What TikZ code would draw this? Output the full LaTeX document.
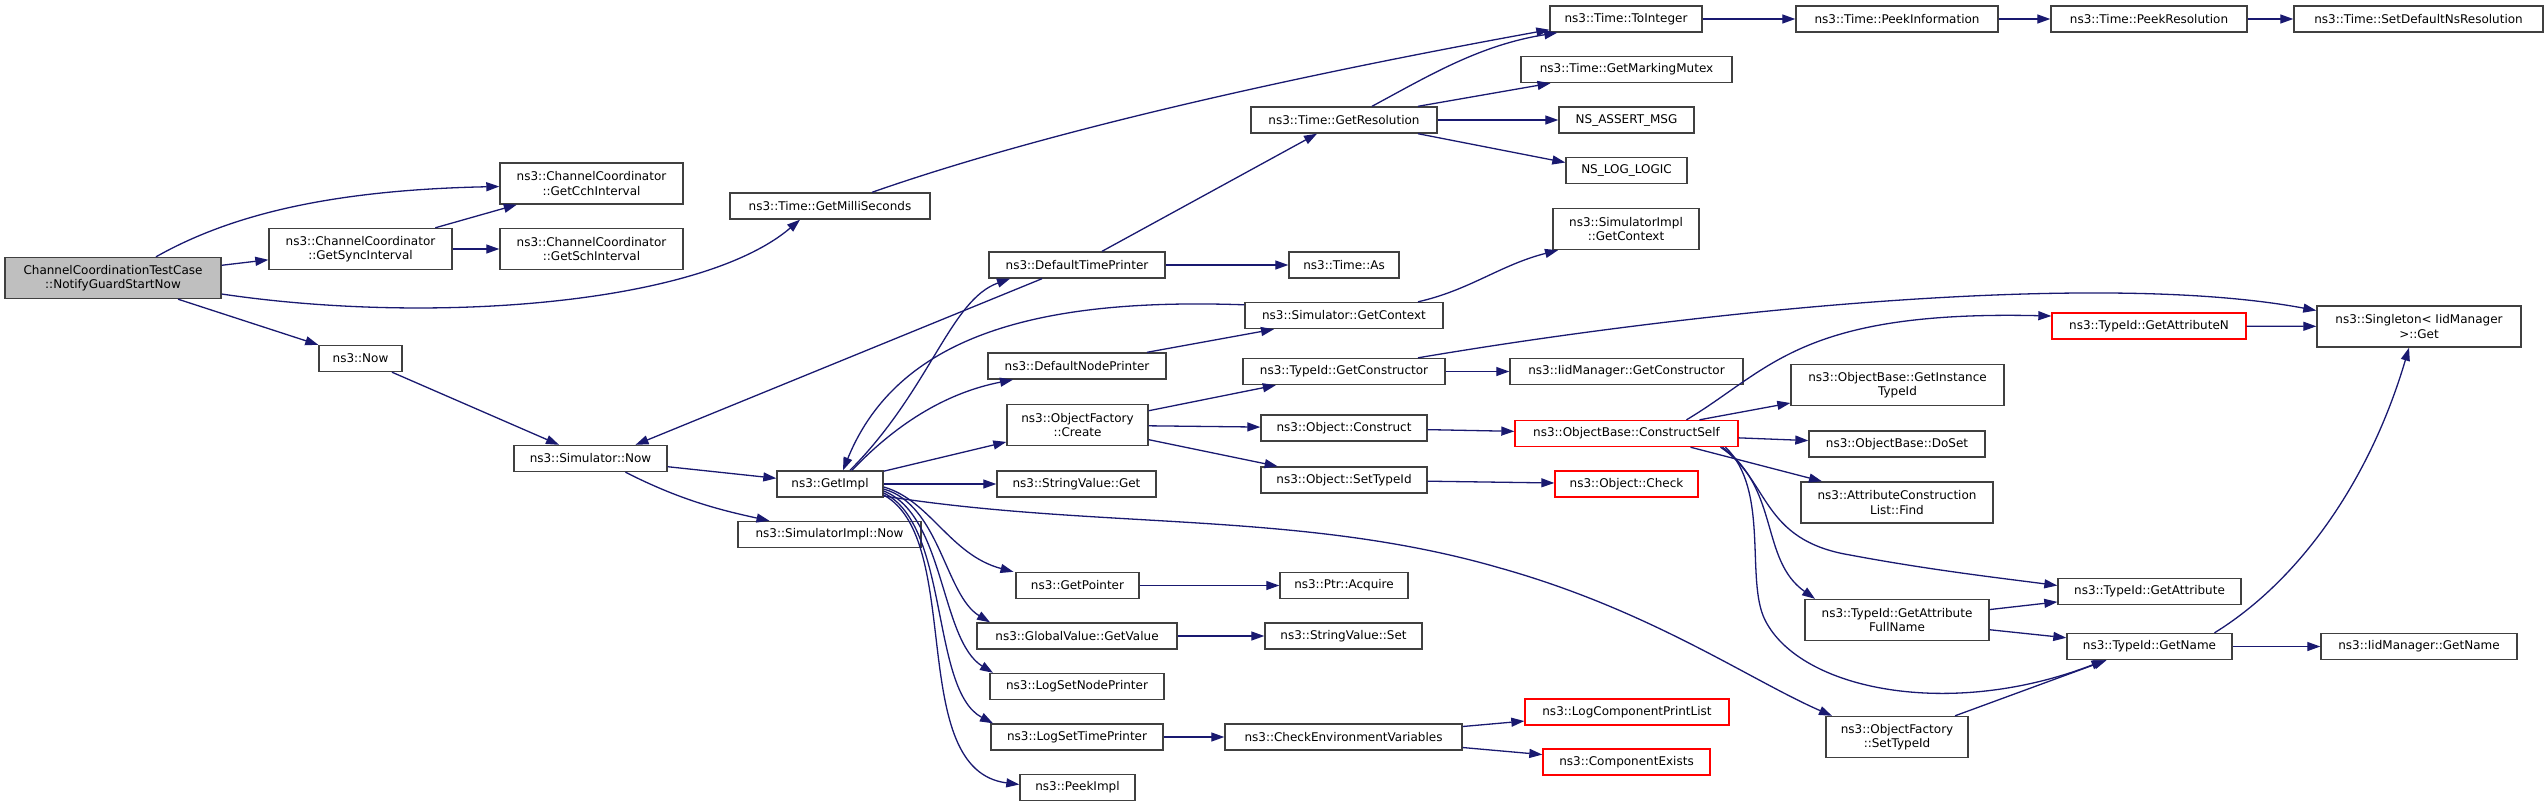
\documentclass[tikz,border=0pt]{standalone}
\usepackage{fontspec}
\setmainfont{DejaVu Sans}
\usepackage{tikz}
\usetikzlibrary{arrows.meta}
\definecolor{edgeblue}{HTML}{191970}

\begin{document}
\begin{tikzpicture}[
        x=1pt, y=-1pt,
        fn/.style={rectangle, draw=black!75, line width=1.4pt, fill=white, inner sep=0pt, align=center, minimum height=26, font=\fontsize{12}{14.5}\selectfont},
        fntwo/.style={fn, minimum height=41},
        fnred/.style={draw=red},
        fnroot/.style={fill=black!25},
        call/.style={-{Triangle[length=13pt, width=9pt]}, draw=edgeblue, line width=1.3pt}
    ]
        \useasboundingbox (0,0) rectangle (2548,807);

        % Define nodes
        \node (NGS) [fntwo, fnroot, minimum width=216] at (113,278) {ChannelCoordinationTestCase\\::NotifyGuardStartNow};
        \node (GSI) [fntwo, minimum width=183] at (360.5,249) {ns3::ChannelCoordinator\\::GetSyncInterval};
        \node (NOW) [fn, minimum width=83] at (360.5,358.5) {ns3::Now};
        \node (GCI) [fntwo, minimum width=183] at (591.5,183.5) {ns3::ChannelCoordinator\\::GetCchInterval};
        \node (GSC) [fntwo, minimum width=183] at (591.5,249) {ns3::ChannelCoordinator\\::GetSchInterval};
        \node (SNow) [fn, minimum width=153] at (590.5,458.5) {ns3::Simulator::Now};
        \node (GMS) [fn, minimum width=200] at (830,206) {ns3::Time::GetMilliSeconds};
        \node (GImpl) [fn, minimum width=106] at (830,484) {ns3::GetImpl};
        \node (SINow) [fn, minimum width=183] at (829.5,534.5) {ns3::SimulatorImpl::Now};

        \node (DTP) [fn, minimum width=176] at (1077,265) {ns3::DefaultTimePrinter};
        \node (DNP) [fn, minimum width=178] at (1077,366) {ns3::DefaultNodePrinter};
        \node (OFC) [fntwo, minimum width=141] at (1077.5,425) {ns3::ObjectFactory\\::Create};
        \node (SVG) [fn, minimum width=159] at (1076.5,484) {ns3::StringValue::Get};
        \node (GP) [fn, minimum width=123] at (1077.5,585.5) {ns3::GetPointer};
        \node (GVGV) [fn, minimum width=200] at (1077,636) {ns3::GlobalValue::GetValue};
        \node (LSNP) [fn, minimum width=174] at (1077,686.5) {ns3::LogSetNodePrinter};
        \node (LSTP) [fn, minimum width=172] at (1077,737) {ns3::LogSetTimePrinter};
        \node (PI) [fn, minimum width=115] at (1077.5,787.5) {ns3::PeekImpl};

        \node (TGR) [fn, minimum width=186] at (1344,120) {ns3::Time::GetResolution};
        \node (TAs) [fn, minimum width=110] at (1344,265) {ns3::Time::As};
        \node (SGC) [fn, minimum width=198] at (1344,315.5) {ns3::Simulator::GetContext};
        \node (TGC) [fn, minimum width=202] at (1344,371.5) {ns3::TypeId::GetConstructor};
        \node (OC) [fn, minimum width=166] at (1344,428) {ns3::Object::Construct};
        \node (OST) [fn, minimum width=166] at (1344,480) {ns3::Object::SetTypeId};
        \node (PA) [fn, minimum width=128] at (1344,585.5) {ns3::Ptr::Acquire};
        \node (SVS) [fn, minimum width=157] at (1343.5,636) {ns3::StringValue::Set};
        \node (CEV) [fn, minimum width=237] at (1343.5,737) {ns3::CheckEnvironmentVariables};

        \node (TTI) [fn, minimum width=152] at (1626,19) {ns3::Time::ToInteger};
        \node (TGMM) [fn, minimum width=211] at (1626.5,69.5) {ns3::Time::GetMarkingMutex};
        \node (NAM) [fn, minimum width=135] at (1626.5,120) {NS\_ASSERT\_MSG};
        \node (NLL) [fn, minimum width=121] at (1626.5,170.5) {NS\_LOG\_LOGIC};
        \node (SIGC) [fntwo, minimum width=146] at (1626,229) {ns3::SimulatorImpl\\::GetContext};
        \node (IGC) [fn, minimum width=233] at (1626.5,371.5) {ns3::IidManager::GetConstructor};
        \node (OBCS) [fn, fnred, minimum width=223] at (1626.5,433.5) {ns3::ObjectBase::ConstructSelf};
        \node (OCh) [fn, fnred, minimum width=143] at (1626.5,484) {ns3::Object::Check};
        \node (LCPL) [fn, fnred, minimum width=204] at (1627,712) {ns3::LogComponentPrintList};
        \node (CE) [fn, fnred, minimum width=167] at (1626.5,762) {ns3::ComponentExists};

        \node (TPI) [fn, minimum width=202] at (1897,19) {ns3::Time::PeekInformation};
        \node (OBGIT) [fntwo, minimum width=213] at (1897.5,385) {ns3::ObjectBase::GetInstance\\TypeId};
        \node (OBDS) [fn, minimum width=176] at (1897,444) {ns3::ObjectBase::DoSet};
        \node (ACLF) [fntwo, minimum width=192] at (1897,502.5) {ns3::AttributeConstruction\\List::Find};
        \node (TGAFN) [fntwo, minimum width=184] at (1897,620) {ns3::TypeId::GetAttribute\\FullName};
        \node (OFST) [fntwo, minimum width=142] at (1897,737) {ns3::ObjectFactory\\::SetTypeId};

        \node (TPR) [fn, minimum width=196] at (2149,19) {ns3::Time::PeekResolution};
        \node (TGAN) [fn, fnred, minimum width=194] at (2149,326) {ns3::TypeId::GetAttributeN};
        \node (TGA) [fn, minimum width=183] at (2149.5,591.5) {ns3::TypeId::GetAttribute};
        \node (TGN) [fn, minimum width=165] at (2149.5,646.5) {ns3::TypeId::GetName};

        \node (TSDNR) [fn, minimum width=249] at (2418.5,19) {ns3::Time::SetDefaultNsResolution};
        \node (SIG) [fntwo, minimum width=204] at (2419,326.5) {ns3::Singleton< IidManager\\>::Get};
        \node (IGN) [fn, minimum width=196] at (2419,646.5) {ns3::IidManager::GetName};

        % Draw arrows
        \draw [call] ([xshift=43pt]NGS.north) .. controls (230,215) and (330,190) .. ([yshift=-3pt]GCI.west);
        \draw [call] (NGS) -- (GSI);
        \draw [call] ([yshift=-16pt]NGS.east) .. controls (430,325) and (700,305) .. ([xshift=-30pt]GMS.south);
        \draw [call] (NGS) -- (NOW);
        \draw [call] (GSI) -- (GCI);
        \draw [call] (GSI) -- (GSC);
        \draw [call] (NOW) -- (SNow);
        \draw [call] ([xshift=42pt]GMS.north) .. controls (1050,130) and (1300,75) .. ([yshift=3pt]TTI.south west);
        \draw [call] (SNow) -- (GImpl);
        \draw [call] ([xshift=35pt]SNow.south) .. controls (680,500) and (720,510) .. ([xshift=-60pt]SINow.north);
        \draw [call] ([xshift=-35pt]DTP.south) -- ([xshift=45pt]SNow.north);

        \draw [call] ([xshift=20pt]GImpl.north) .. controls (930,390) and (950,300) .. ([xshift=-67pt]DTP.south);
        \draw [call] ([yshift=-3pt]SGC.north west) .. controls (1050,298) and (900,330) .. ([xshift=13pt]GImpl.north);
        \draw [call] ([xshift=22pt]GImpl.north) .. controls (900,420) and (950,392) .. ([xshift=-64pt]DNP.south);
        \draw [call] (GImpl) -- (OFC);
        \draw [call] (GImpl) -- (SVG);
        \draw [call] ([yshift=-3pt]GImpl.east) .. controls (930,500) and (950,555) .. ([xshift=-64pt]GP.north);
        \draw [call] ([yshift=-5pt]GImpl.east) .. controls (940,505) and (945,595) .. ([xshift=-87pt]GVGV.north);
        \draw [call] ([yshift=-7pt]GImpl.east) .. controls (945,515) and (940,640) .. ([xshift=-84pt]LSNP.north);
        \draw [call] ([yshift=-9pt]GImpl.east) .. controls (950,525) and (930,690) .. ([xshift=-84pt]LSTP.north);
        \draw [call] ([yshift=-11pt]GImpl.east) .. controls (965,540) and (905,770) .. ([yshift=3pt]PI.west);
        \draw [call] ([yshift=-12pt]GImpl.east) .. controls (1100,530) and (1300,510) .. (1500,568)
            .. controls (1650,610) and (1750,680) .. ([xshift=-65pt]OFST.north);

        \draw [call] ([xshift=70pt]DNP.north) -- ([xshift=-70pt]SGC.south);
        \draw [call] ([xshift=25pt]DTP.north) -- ([xshift=-27pt]TGR.south);
        \draw [call] (DTP) -- (TAs);
        \draw [call] ([xshift=74pt]SGC.north) .. controls (1470,290) and (1500,265) .. ([xshift=-68pt]SIGC.south);
        \draw [call] (OFC) -- (TGC);
        \draw [call] (OFC) -- (OC);
        \draw [call] (OFC) -- (OST);
        \draw [call] (GP) -- (PA);
        \draw [call] (GVGV) -- (SVS);
        \draw [call] (LSTP) -- (CEV);

        \draw [call] ([xshift=28pt]TGR.north) .. controls (1430,75) and (1480,45) .. ([xshift=8pt]TTI.south west);
        \draw [call] ([xshift=74pt]TGR.north) -- ([xshift=-76pt]TGMM.south);
        \draw [call] (TGR) -- (NAM);
        \draw [call] ([xshift=74pt]TGR.south) -- ([yshift=8pt]NLL.west);
        \draw [call] (TGC) -- (IGC);
        \draw [call] ([xshift=74pt]TGC.north) .. controls (1700,310) and (2100,270) .. ([yshift=16pt]SIG.west);
        \draw [call] (OC) -- (OBCS);
        \draw [call] (OST) -- (OCh);
        \draw [call] (CEV) -- (LCPL);
        \draw [call] (CEV) -- (CE);

        \draw [call] (TTI) -- (TPI);
        \draw [call] (TPI) -- (TPR);
        \draw [call] (TPR) -- (TSDNR);

        \draw [call] ([xshift=60pt]OBCS.north) .. controls (1770,370) and (1800,310) .. ([yshift=10pt]TGAN.west);
        \draw [call] ([xshift=73pt]OBCS.north) -- ([yshift=-18pt]OBGIT.west);
        \draw [call] (OBCS) -- (OBDS);
        \draw [call] ([xshift=64pt]OBCS.south) -- ([xshift=-75pt]ACLF.north);
        \draw [call] ([xshift=94pt]OBCS.south) .. controls (1770,480) and (1760,540) .. (1850,555)
            .. controls (1930,570) and (2000,578) .. ([yshift=6pt]TGA.west);
        \draw [call] ([xshift=96pt]OBCS.south) .. controls (1780,490) and (1760,560) .. ([xshift=-82pt]TGAFN.north);
        \draw [call] ([xshift=99pt]OBCS.south) .. controls (1770,490) and (1745,580) .. (1765,620)
            .. controls (1800,690) and (1950,720) .. ([xshift=-45pt]TGN.south);

        \draw [call] (TGAN) -- (SIG);
        \draw [call] (TGAFN) -- (TGA);
        \draw [call] (TGAFN) -- (TGN);
        \draw [call] (TGN) -- (IGN);
        \draw [call] ([xshift=65pt]TGN.north) .. controls (2300,580) and (2370,480) .. ([xshift=-10pt]SIG.south);
        \draw [call] ([xshift=58pt]OFST.north) -- ([xshift=-43pt]TGN.south);
    \end{tikzpicture}
\end{document}
